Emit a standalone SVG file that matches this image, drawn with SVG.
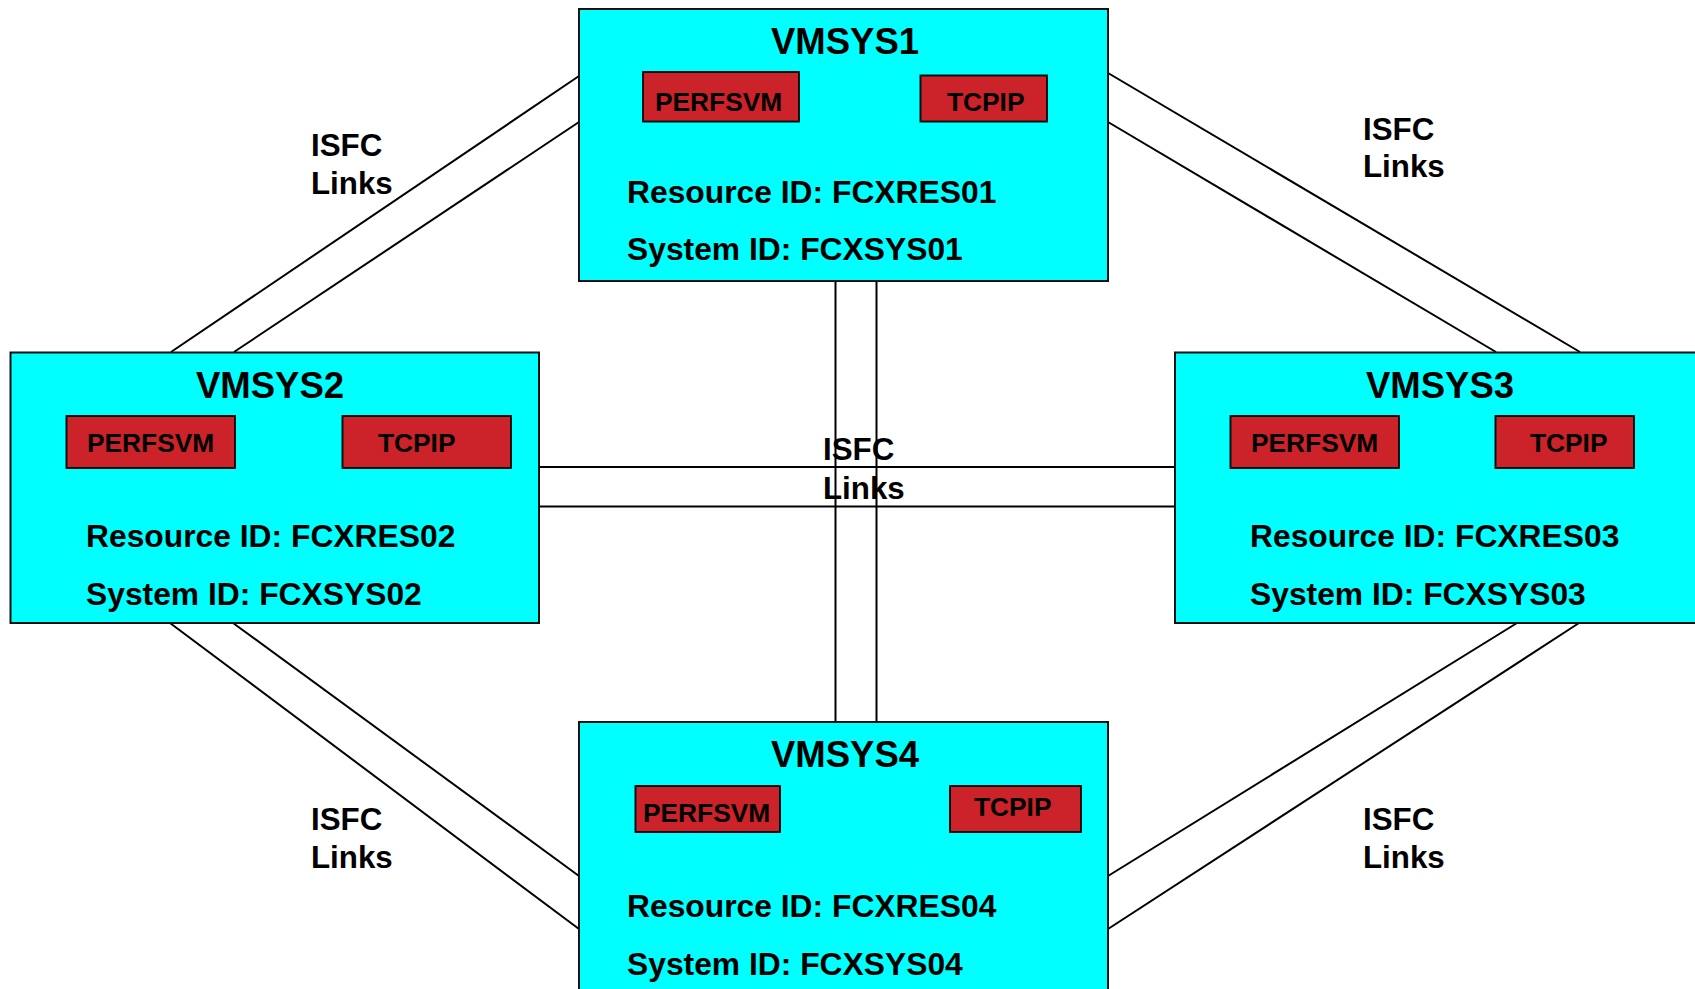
<svg xmlns="http://www.w3.org/2000/svg" width="1695" height="989" viewBox="0 0 1695 989">
<style>
.box{fill:#00FFFF;stroke:#111;stroke-width:2}
.svc{fill:#CC2229;stroke:#111;stroke-width:2}
.ln{stroke:#000;stroke-width:2;fill:none}
text{font-family:"Liberation Sans",Arial,sans-serif;font-weight:bold;fill:#000}
.t{font-size:36.5px}
.s{font-size:26.3px}
.r{font-size:31.8px}
.l{font-size:31.3px}
</style>
<rect x="0" y="0" width="1695" height="989" fill="#fff"/>
<g id="connectors">
<line class="ln" x1="171" y1="352" x2="579" y2="76"/>
<line class="ln" x1="234" y1="352" x2="579" y2="122"/>
<line class="ln" x1="1108" y1="73" x2="1580" y2="352"/>
<line class="ln" x1="1108" y1="122" x2="1496" y2="352"/>
<line class="ln" x1="170" y1="623" x2="579" y2="929"/>
<line class="ln" x1="233" y1="623" x2="579" y2="876"/>
<line class="ln" x1="1108" y1="876" x2="1517" y2="623"/>
<line class="ln" x1="1108" y1="929" x2="1579" y2="623"/>
<line class="ln" x1="539" y1="467" x2="1175" y2="467"/>
<line class="ln" x1="539" y1="506.5" x2="1175" y2="506.5"/>
<line class="ln" x1="835.5" y1="281" x2="835.5" y2="722"/>
<line class="ln" x1="876.5" y1="281" x2="876.5" y2="722"/>
</g>
<g id="label-tl"><text class="l" x="311" y="156">ISFC</text><text class="l" x="311" y="194">Links</text></g>
<g id="label-tr"><text class="l" x="1363" y="140">ISFC</text><text class="l" x="1363" y="177">Links</text></g>
<g id="label-bl"><text class="l" x="311" y="830">ISFC</text><text class="l" x="311" y="868">Links</text></g>
<g id="label-br"><text class="l" x="1363" y="830">ISFC</text><text class="l" x="1363" y="868">Links</text></g>
<g id="label-c"><text class="l" x="823" y="460">ISFC</text><text class="l" x="823" y="499">Links</text></g>
<g id="vmsys1">
<rect class="box" x="579" y="9" width="529" height="272"/>
<text class="t" x="771" y="54">VMSYS1</text>
<rect class="svc" x="643" y="72" width="156" height="49.5"/>
<text class="s" x="655" y="111">PERFSVM</text>
<rect class="svc" x="920.5" y="75.5" width="126.5" height="46"/>
<text class="s" x="947" y="111">TCPIP</text>
<text class="r" x="627" y="203">Resource ID: FCXRES01</text>
<text class="r" x="627" y="260">System ID: FCXSYS01</text>
</g>
<g id="vmsys2">
<rect class="box" x="10.5" y="352.5" width="528.5" height="270.5"/>
<text class="t" x="196" y="398">VMSYS2</text>
<rect class="svc" x="66.5" y="416" width="168.5" height="52"/>
<text class="s" x="87" y="452">PERFSVM</text>
<rect class="svc" x="342.5" y="416" width="168.5" height="52"/>
<text class="s" x="378" y="452">TCPIP</text>
<text class="r" x="86" y="547">Resource ID: FCXRES02</text>
<text class="r" x="86" y="605">System ID: FCXSYS02</text>
</g>
<g id="vmsys3">
<rect class="box" x="1175" y="352.5" width="530" height="270.5"/>
<text class="t" x="1366" y="398">VMSYS3</text>
<rect class="svc" x="1230.5" y="416" width="168.5" height="52"/>
<text class="s" x="1251" y="452">PERFSVM</text>
<rect class="svc" x="1495.5" y="416" width="138.5" height="52"/>
<text class="s" x="1530" y="452">TCPIP</text>
<text class="r" x="1250" y="547">Resource ID: FCXRES03</text>
<text class="r" x="1250" y="605">System ID: FCXSYS03</text>
</g>
<g id="vmsys4">
<rect class="box" x="579" y="722" width="529" height="280"/>
<text class="t" x="771" y="767">VMSYS4</text>
<rect class="svc" x="635.5" y="786" width="144.5" height="46"/>
<text class="s" x="643" y="822">PERFSVM</text>
<rect class="svc" x="950" y="786" width="131" height="46"/>
<text class="s" x="974" y="816">TCPIP</text>
<text class="r" x="627" y="917">Resource ID: FCXRES04</text>
<text class="r" x="627" y="975">System ID: FCXSYS04</text>
</g>
</svg>
